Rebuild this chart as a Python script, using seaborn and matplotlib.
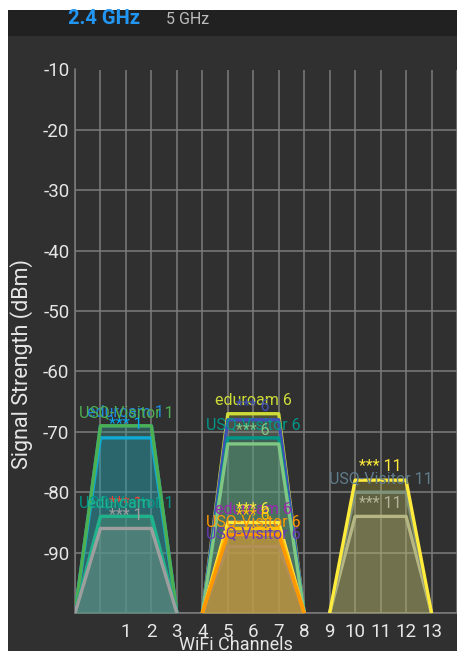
import matplotlib
matplotlib.use("Agg")
import matplotlib.pyplot as plt
import seaborn as sns
import pandas as pd
from matplotlib.patches import Rectangle

# ---- data ----
ssids = ["eduroam", "***", "USQ-Visitor", "***", "USQ-Visitor", "eduroam", "***",
         "USQ-Visitor", "eduroam", "***", "USQ-Visitor", "***", "eduroam", "***", "***", "USQ-Visitor",
         "***", "USQ-Visitor", "***"]
channels = [1, 1, 1, 1, 1, 1, 1,
            6, 6, 6, 6, 6, 6, 6, 6, 6,
            11, 11, 11]
levels = [-69, -71, -69, -84, -84, -84, -86,
          -89, -67, -68, -71, -72, -85, -85, -86, -87,
          -84, -80, -78]
colors = ["#1E88E5", "#03A9F4", "#4CAF50", "#F44336", "#009688", "#1DB38C", "#9E9E9E",
          "#673AB7", "#CDDC39", "#3F51B5", "#009688", "#81C784", "#9C27B0", "#FFEB3B", "#FFC107", "#FF9800",
          "#B4B49A", "#607D8B", "#FFEB3B"]
tick_channels = list(range(1, 14))
y_ticks = [-10, -20, -30, -40, -50, -60, -70, -80, -90, -100]
bands = ["2.4 GHz", "5 GHz"]

# ---- build trapezoids from the data ----
rows = []
ids = []
for i, (s, ch, lv) in enumerate(zip(ssids, channels, levels)):
    nid = f"{i}:{s} {ch}"
    ids.append(nid)
    for x, y in zip([ch - 2, ch - 1, ch + 1, ch + 2], [-100, lv, lv, -100]):
        rows.append({"id": nid, "x": x, "y": y})
df = pd.DataFrame(rows)
palette = dict(zip(ids, colors))

sns.set_theme(style="dark")
plt.rcParams["font.family"] = ["Roboto", "DejaVu Sans"]

W, H = 457, 651
fig = plt.figure(figsize=(W / 100, H / 100), dpi=100, facecolor="white")
# dark app panel and header
fig.patches.append(Rectangle((8 / W, 0), 1 - 8 / W, 1 - 10 / H, transform=fig.transFigure,
                             facecolor="#303030", edgecolor="none", zorder=-10))
fig.patches.append(Rectangle((8 / W, 1 - 36 / H), 1 - 8 / W, 26 / H, transform=fig.transFigure,
                             facecolor="#212121", edgecolor="none", zorder=-9))

ax = fig.add_axes([75 / W, 1 - 613 / H, 1 - 75 / W, (613 - 69.5) / H])
ax.set_facecolor("#303030")

sns.lineplot(data=df, x="x", y="y", hue="id", hue_order=ids, palette=palette, sort=False,
             estimator=None, legend=False, lw=2.4, ax=ax)
# each network: its fill, then its outline (later fills lie over earlier outlines)
for i, (line, nid, c) in enumerate(zip(ax.lines, ids, colors)):
    line.set_zorder(2 + 2 * i + 1)
    sub = df[df["id"] == nid]
    ax.fill_between(sub["x"], sub["y"], -100, color=c, alpha=0.2, lw=0, zorder=2 + 2 * i)

for s, ch, lv, c in zip(ssids, channels, levels, colors):
    ax.text(ch, lv + 2.2, f"{s} {ch}", ha="center", va="center", color=c, fontsize=11.5, zorder=100)

ax.set_xlim(-1, -1 + (W - 75) / 26)
ax.set_ylim(-100, -10)
ax.set_xticks(range(-1, 15))
ax.set_xticklabels(["" if t not in tick_channels else str(t) for t in range(-1, 15)])
ax.set_yticks(y_ticks)
ax.set_yticklabels([str(t) if t != -100 else "" for t in y_ticks])
ax.grid(True, color="#7c7c7c", lw=1.1)
ax.set_axisbelow(True)
for side in ["top", "right"]:
    ax.spines[side].set_visible(False)
for side in ["left", "bottom"]:
    ax.spines[side].set_color("#7c7c7c")
    ax.spines[side].set_linewidth(1.1)
ax.tick_params(axis="both", length=0, colors="#e6e6e6", labelsize=13.5)
ax.tick_params(axis="y", pad=4)
ax.tick_params(axis="x", pad=7)

ax.set_xlabel("WiFi Channels", color="#e6e6e6", fontsize=13)
ax.xaxis.set_label_coords((236 - 75) / (W - 75), (613 - 636) / (613 - 69.5))
ax.set_ylabel("Signal Strength (dBm)", color="#e6e6e6", fontsize=15.5)
ax.yaxis.label.set_va("center")
ax.yaxis.set_label_coords((22 - 75) / (W - 75), (613 - 364) / (613 - 69.5))

fig.text(104 / W, 1 - 19 / H, bands[0], color="#2196F3", fontsize=14.5, fontweight="bold",
         ha="center", va="center")
fig.text(188 / W, 1 - 19 / H, bands[1], color="#bdbdbd", fontsize=11.5, ha="center", va="center")

fig.savefig("out.png", dpi=100, facecolor="white")
